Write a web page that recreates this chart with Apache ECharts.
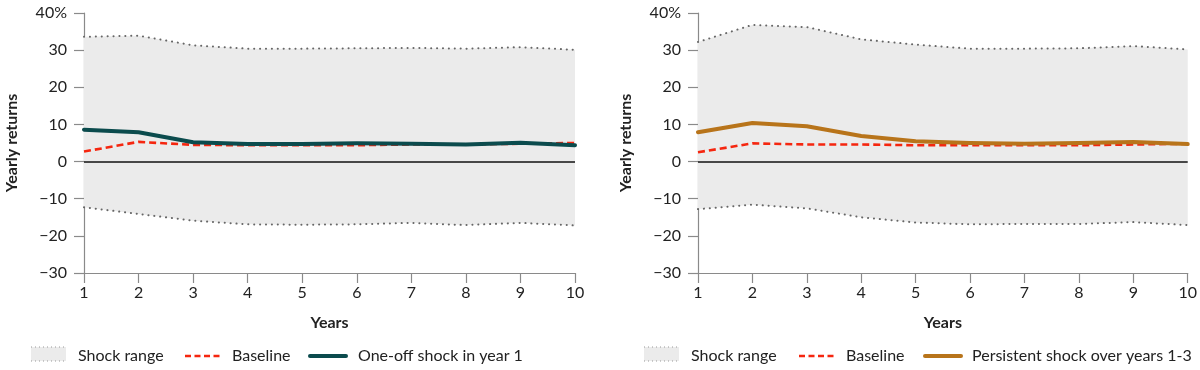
<!DOCTYPE html>
<html>
<head>
<meta charset="utf-8">
<script src="https://cdn.jsdelivr.net/npm/echarts@6/dist/echarts.min.js"></script>
<style>
html,body{margin:0;padding:0;background:#fff;}
#chart{width:1200px;height:370px;}
</style>
</head>
<body>
<div id="chart"></div>
<script>
// ---- data ----
const years = [1, 2, 3, 4, 5, 6, 7, 8, 9, 10];
const yTicks = [-30, -20, -10, 0, 10, 20, 30, 40];

// Left panel: one-off shock in year 1
const leftUpper    = [33.6, 33.9, 31.3, 30.4, 30.4, 30.5, 30.6, 30.4, 30.8, 30.1];
const leftLower    = [-12.3, -14.1, -15.9, -16.9, -17.0, -16.9, -16.5, -17.1, -16.5, -17.2];
const leftBaseline = [2.7, 5.3, 4.5, 4.4, 4.4, 4.4, 4.6, 4.6, 4.8, 5.0];
const leftShock    = [8.6, 7.9, 5.2, 4.7, 4.7, 4.9, 4.8, 4.6, 5.1, 4.4];

// Right panel: persistent shock over years 1-3
const rightUpper    = [32.2, 36.8, 36.2, 32.9, 31.5, 30.4, 30.4, 30.5, 31.1, 30.2];
const rightLower    = [-12.8, -11.6, -12.6, -15.0, -16.4, -16.9, -16.8, -16.8, -16.3, -17.1];
const rightBaseline = [2.5, 4.9, 4.6, 4.6, 4.4, 4.4, 4.4, 4.4, 4.6, 4.8];
const rightShock    = [7.9, 10.4, 9.5, 6.9, 5.5, 5.0, 4.8, 5.0, 5.3, 4.7];

const legendNames = ['Shock range', 'Baseline'];
const leftShockName = 'One-off shock in year 1';
const rightShockName = 'Persistent shock over years 1-3';

// ---- styles ----
const FONT = 'Lato';
const FS = 16;
const TEXT = '#222';
const AXIS = '#8a8a8a';
const BAND = '#ebebeb';
const DOT = '#666';
const RED = '#f5260f';
const TEAL = '#0b4b4d';
const ORANGE = '#b8741a';

const chart = echarts.init(document.getElementById('chart'));

function pairs(vals) { return years.map((y, i) => [y, vals[i]]); }
function fmtY(v) {
  if (v === 40) return '40%';
  if (v < 0) return '\u2212' + Math.abs(v);
  return String(v);
}

function xAxis(gi) {
  return {
    type: 'value', gridIndex: gi, min: 1, max: 10, interval: 1,
    name: 'Years', nameLocation: 'middle', nameGap: 42,
    nameTextStyle: { fontFamily: FONT, fontSize: FS, fontWeight: 'bold', color: TEXT },
    axisLine: { show: true, onZero: false, lineStyle: { color: AXIS, width: 1.2 } },
    axisTick: { show: true, length: 10, lineStyle: { color: AXIS, width: 1.2 } },
    axisLabel: { margin: 12, fontFamily: FONT, fontSize: FS, color: TEXT },
    splitLine: { show: false }
  };
}
function yAxis(gi) {
  return {
    type: 'value', gridIndex: gi, min: -30, max: 40, interval: 10,
    name: 'Yearly returns', nameLocation: 'middle', nameGap: 64,
    nameTextStyle: { fontFamily: FONT, fontSize: FS, fontWeight: 'bold', color: TEXT },
    axisLine: { show: true, lineStyle: { color: AXIS, width: 1.2 } },
    axisTick: { show: true, length: 10, lineStyle: { color: AXIS, width: 1.2 } },
    axisLabel: { margin: 17, fontFamily: FONT, fontSize: FS, color: TEXT, formatter: fmtY },
    splitLine: { show: false }
  };
}

function panelSeries(gi, upper, lower, base, shock, shockName, shockColor) {
  const band = (vals, withZero) => ({
    type: 'line', xAxisIndex: gi, yAxisIndex: gi, name: 'Shock range',
    data: pairs(vals), showSymbol: false, symbol: 'none', silent: true, z: 1,
    lineStyle: { color: DOT, width: 2, type: [0.1, 5.8], cap: 'round' },
    areaStyle: { color: BAND, opacity: 1 },
    markLine: withZero ? {
      silent: true, symbol: 'none', label: { show: false },
      lineStyle: { color: '#111', width: 1.5, type: 'solid' },
      data: [{ yAxis: 0 }]
    } : undefined
  });
  return [
    band(upper, true),
    band(lower, false),
    {
      type: 'line', xAxisIndex: gi, yAxisIndex: gi, name: 'Baseline',
      data: pairs(base), symbol: 'none', z: 3,
      lineStyle: { color: RED, width: 2.6, type: [7, 4] }
    },
    {
      type: 'line', xAxisIndex: gi, yAxisIndex: gi, name: shockName,
      data: pairs(shock), symbol: 'none', z: 4,
      lineStyle: { color: shockColor, width: 4, cap: 'round', join: 'round' }
    }
  ];
}

function legendGroup(x0, xBase, xBaseText, xShock, xShockText, shockName, shockColor) {
  const y = 356;
  const ts = { fontFamily: FONT, fontSize: FS, fill: TEXT, textVerticalAlign: 'middle' };
  return [
    { type: 'rect', shape: { x: x0, y: 347, width: 35, height: 14 }, style: { fill: BAND } },
    { type: 'line', shape: { x1: x0, y1: 347, x2: x0 + 35, y2: 347 }, style: { stroke: '#999', lineWidth: 1, lineDash: [1, 3] } },
    { type: 'line', shape: { x1: x0, y1: 361, x2: x0 + 35, y2: 361 }, style: { stroke: '#999', lineWidth: 1, lineDash: [1, 3] } },
    { type: 'text', x: x0 + 47, y: y, style: Object.assign({ text: legendNames[0] }, ts) },
    { type: 'line', shape: { x1: xBase, y1: y, x2: xBase + 36, y2: y }, style: { stroke: RED, lineWidth: 2.6, lineDash: [6, 3.5] } },
    { type: 'text', x: xBaseText, y: y, style: Object.assign({ text: legendNames[1] }, ts) },
    { type: 'line', shape: { x1: xShock, y1: y, x2: xShock + 36, y2: y }, style: { stroke: shockColor, lineWidth: 4, lineCap: 'round' } },
    { type: 'text', x: xShockText, y: y, style: Object.assign({ text: shockName }, ts) }
  ];
}

const option = {
  animation: false,
  backgroundColor: '#fff',
  textStyle: { fontFamily: FONT },
  grid: [
    { left: 84, right: 625, top: 13, bottom: 97 },
    { left: 698, right: 12, top: 13, bottom: 97 }
  ],
  xAxis: [xAxis(0), xAxis(1)],
  yAxis: [yAxis(0), yAxis(1)],
  series: [
    ...panelSeries(0, leftUpper, leftLower, leftBaseline, leftShock, leftShockName, TEAL),
    ...panelSeries(1, rightUpper, rightLower, rightBaseline, rightShock, rightShockName, ORANGE)
  ],
  graphic: [
    ...legendGroup(31, 185, 232, 310, 358, leftShockName, TEAL),
    ...legendGroup(644, 799, 846, 925, 972, rightShockName, ORANGE)
  ]
};
chart.setOption(option);
</script>
</body>
</html>
